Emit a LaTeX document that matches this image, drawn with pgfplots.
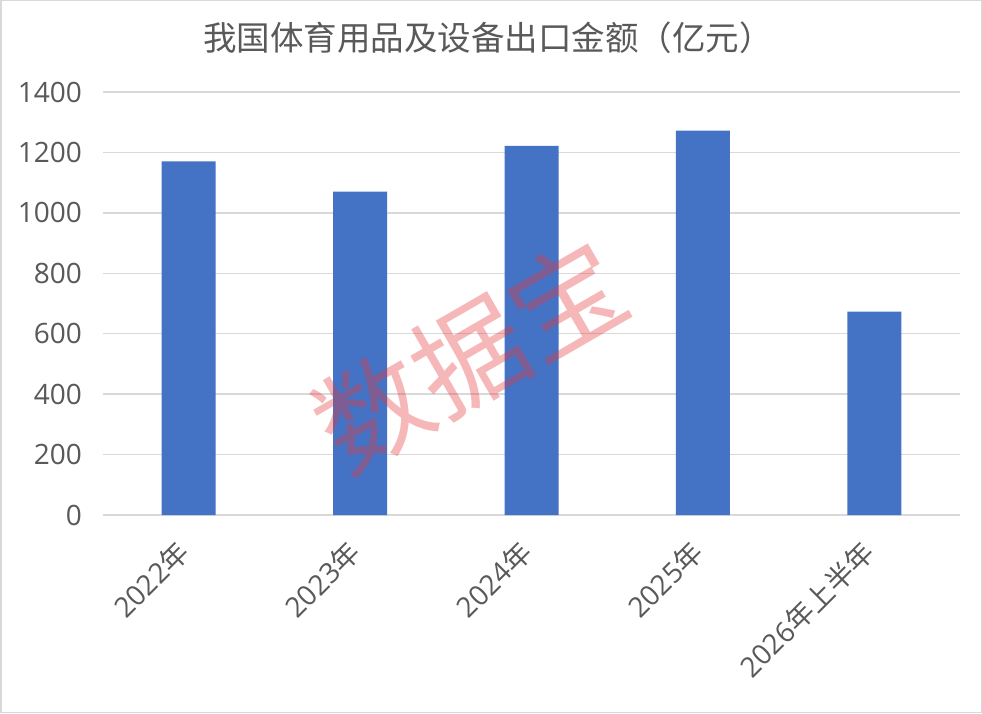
\documentclass[border=0pt]{standalone}
\usepackage{fontspec}
\setmainfont{Open Sans}
\newfontfamily\cjk{Noto Sans CJK SC}
\usepackage{pgfplots}
\pgfplotsset{compat=1.18}
\definecolor{barblue}{HTML}{4472C4}
\definecolor{txt}{HTML}{595959}
\definecolor{gridc}{HTML}{D9D9D9}
\definecolor{wm}{HTML}{E8383D}
\begin{document}
\begin{tikzpicture}[x=1pt,y=1pt]
\useasboundingbox (0,0) rectangle (982,713);
\fill[white] (0,0) rectangle (982,713);
\draw[gridc, line width=1.5pt] (0.75,0.75) rectangle (981.25,712.25);
\node[font=\cjk\fontsize{33.5}{38}\selectfont, text=txt] at (488,675) {我国体育用品及设备出口金额（亿元）};
\begin{axis}[
  at={(103pt,198pt)}, anchor=south west,
  scale only axis, width=857pt, height=423pt,
  xmin=-0.5, xmax=4.5, ymin=0, ymax=1400,
  ytick={0,200,...,1400},
  xtick={0,1,2,3,4},
  xticklabels={2022{\cjk 年},2023{\cjk 年},2024{\cjk 年},2025{\cjk 年},2026{\cjk 年上半年}},
  ymajorgrids, grid style={gridc, line width=1.5pt},
  axis line style={draw=none},
  major tick length=0pt,
  tick label style={text=txt},
  /pgf/number format/assume math mode=true,
  /pgf/number format/1000 sep={},
  yticklabel style={font=\fontsize{28}{32}\selectfont, anchor=east, inner sep=0pt, xshift=-21pt},
  xticklabel style={font=\fontsize{28}{32}\selectfont, xshift=-5pt, yshift=-32pt, rotate=45, anchor=east, inner sep=0pt},
  clip=false,
]
\addplot[ybar, fill=barblue, draw=none, bar width=54pt] coordinates {(0,1170) (1,1070) (2,1222) (3,1272) (4,673)};
\end{axis}
\node[font=\cjk\fontsize{112}{120}\selectfont, text=wm, opacity=0.36, rotate=30] at (470,358) {数据宝};
\end{tikzpicture}
\end{document}
